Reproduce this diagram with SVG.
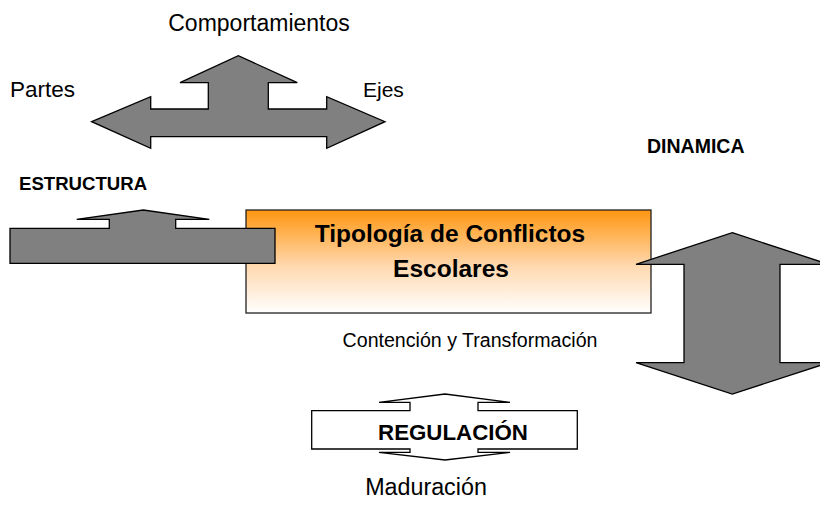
<svg xmlns="http://www.w3.org/2000/svg" width="820" height="508" viewBox="0 0 820 508">
<defs>
<linearGradient id="og" x1="0" y1="0" x2="0" y2="1">
<stop offset="0" stop-color="#FF9610"/>
<stop offset="0.55" stop-color="#FFD9B0"/>
<stop offset="1" stop-color="#FFFFFF"/>
</linearGradient>
<style>
.t{font-family:"Liberation Sans",Arial,sans-serif;fill:#000;}
.b{font-family:"Liberation Sans",Arial,sans-serif;font-weight:bold;fill:#000;}
.g{fill:#808080;stroke:#000;stroke-width:1.3;stroke-linejoin:miter;}
.w{fill:#fff;stroke:#000;stroke-width:1.3;}
</style>
</defs>
<rect width="820" height="508" fill="#fff"/>
<g id="tipologia">
<rect x="246" y="210" width="405" height="103" fill="url(#og)" stroke="#222" stroke-width="1.3"/>
<text class="b" x="450" y="242" font-size="24.5" text-anchor="middle">Tipología de Conflictos</text>
<text class="b" x="451" y="277" font-size="24.5" text-anchor="middle">Escolares</text>
</g>
<g id="connectors">
<path id="arrow-top" class="g" d="M91.7,121.7 L150.7,96.7 L150.7,109 L208.3,109 L208.3,82.7 L180,82.7 L238.3,55.7 L297.3,82.7 L268.3,82.7 L268.3,109 L326.7,109 L326.7,96.7 L385,121.7 L326.7,148.3 L326.7,136.7 L150.7,136.7 L150.7,148.3 Z"/>
<path id="arrow-estructura" class="g" d="M10,228.3 L109.3,228.3 L109.3,219.3 L76.7,219.3 L143.3,210 L209.3,219.3 L175.7,219.3 L175.7,228.3 L275,228.3 L275,263.3 L10,263.3 Z"/>
<path id="arrow-dinamica" class="g" d="M732.3,232.7 L828.6,264.3 L780,264.3 L780,362.7 L828.6,362.7 L732.3,394 L636,362.7 L684,362.7 L684,264.3 L636,264.3 Z"/>
</g>
<g id="regulacion">
<path class="w" d="M311.7,410.7 L410,410.7 L410,402.3 L379,402.3 L445,394 L510,402.3 L478,402.3 L478,410.7 L577.3,410.7 L577.3,449 L478,449 L478,452.3 L510,452.3 L445,460 L379,452.3 L410,452.3 L410,449 L311.7,449 Z"/>
<text class="b" x="453" y="440" font-size="22.3" text-anchor="middle">REGULACIÓN</text>
</g>
<g id="labels">
<text class="t" x="259" y="31" font-size="23" text-anchor="middle">Comportamientos</text>
<text class="t" x="10" y="97" font-size="22.5">Partes</text>
<text class="t" x="363" y="97" font-size="21">Ejes</text>
<text class="b" x="647" y="153" font-size="19.5">DINAMICA</text>
<text class="b" x="19" y="190" font-size="18.6">ESTRUCTURA</text>
<text class="t" x="470" y="347" font-size="19.6" text-anchor="middle">Contención y Transformación</text>
<text class="t" x="426" y="495" font-size="23.3" text-anchor="middle">Maduración</text>
</g>
</svg>
